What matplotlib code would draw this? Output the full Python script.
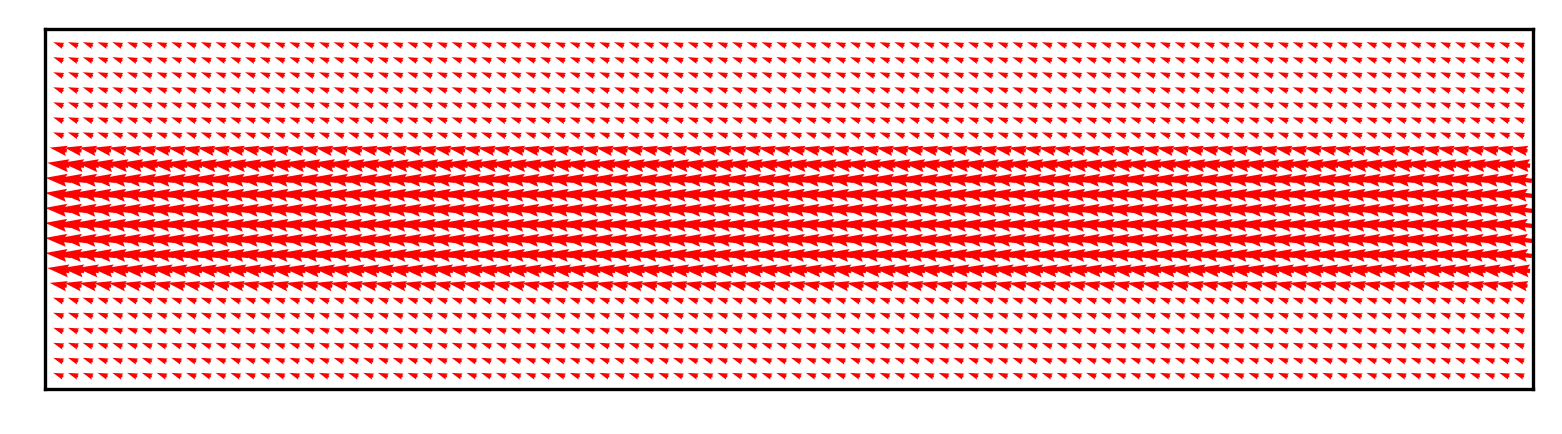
import numpy as np
import matplotlib
matplotlib.use("Agg")
import matplotlib.pyplot as plt

# grid size
n_cols = 100
n_rows = 23

# per-row vector components (top row first), in grid-spacing units
u_rows = [-0.68, -0.68, -0.68, -0.69, -0.69, -0.70, -0.71,
          -1.15,
          -1.50, -1.75, -1.80, -1.80, -1.80, -1.80, -1.75, -1.50,
          -1.15,
          -0.71, -0.70, -0.69, -0.69, -0.68, -0.68]
v_rows = [0.25, 0.25, 0.25, 0.25, 0.25, 0.25, 0.25,
          0.22,
          0.20, 0.20, 0.20, 0.20, 0.20, 0.20, 0.20, 0.20,
          0.22,
          0.25, 0.25, 0.25, 0.25, 0.25, 0.25]

cols = np.arange(n_cols)
rows = np.arange(n_rows)[::-1]  # top row drawn at the top
X, Y = np.meshgrid(cols, rows)
U = np.repeat(np.array(u_rows)[:, None], n_cols, axis=1)
V = np.repeat(np.array(v_rows)[:, None], n_cols, axis=1)

fig = plt.figure(figsize=(7.81, 2.175), dpi=200)
ax = fig.add_axes([45/1562, 45/435, (1533-45)/1562, (390-30)/435])
ax.quiver(X, Y, U, V, color='red', angles='xy', scale_units='xy', scale=1,
          pivot='middle', width=0.0029)
ax.set_xlim(-0.9, n_cols - 1 + 0.95)
ax.set_ylim(-0.95, n_rows - 1 + 1.0)
ax.set_xticks([])
ax.set_yticks([])
for s in ax.spines.values():
    s.set_linewidth(1.2)
fig.savefig("out.png", dpi=200)
